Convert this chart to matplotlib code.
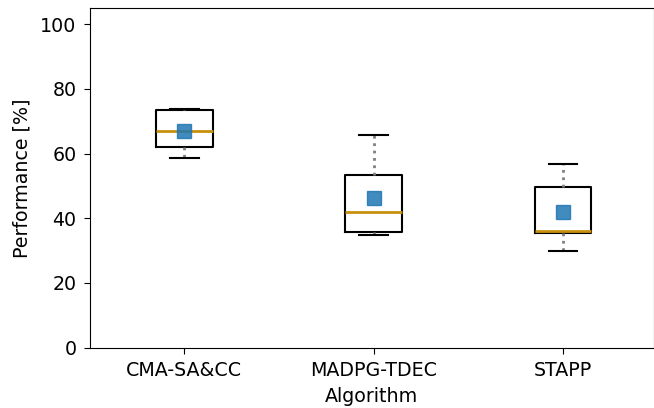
import matplotlib
matplotlib.use('Agg')
import matplotlib.pyplot as plt

# values
algorithms = ['CMA-SA&CC', 'MADPG-TDEC', 'STAPP']
whisker_low = [58.5, 34.7, 30.0]
q1 = [62.2, 35.9, 35.3]
median = [66.9, 42.1, 36.2]
q3 = [73.4, 53.3, 49.8]
whisker_high = [73.7, 65.9, 56.8]
mean = [67.0, 46.4, 41.8]

stats = []
for i, name in enumerate(algorithms):
    stats.append({'label': name, 'whislo': whisker_low[i], 'q1': q1[i],
                  'med': median[i], 'q3': q3[i], 'whishi': whisker_high[i],
                  'mean': mean[i], 'fliers': []})

fig, ax = plt.subplots(figsize=(6.54, 4.08), dpi=100)

ax.bxp(stats, positions=[1, 2, 3], widths=0.3, showmeans=True,
       boxprops=dict(color='black', lw=1.5),
       whiskerprops=dict(color='gray', lw=2, ls=':'),
       capprops=dict(color='black', lw=1.5),
       medianprops=dict(color='#c8900e', lw=2),
       meanprops=dict(marker='s', markerfacecolor='#1f77b4', markeredgecolor='#1f77b4',
                      markersize=10, alpha=0.85))

ax.set_xlim(0.5, 3.48)
ax.set_ylim(0, 105)
ax.set_yticks([0, 20, 40, 60, 80, 100])
ax.tick_params(labelsize=13.7, length=4.5, pad=5)
ax.set_xlabel('Algorithm', fontsize=13.7, labelpad=5)
ax.set_ylabel('Performance [%]', fontsize=13.7, labelpad=6)

plt.subplots_adjust(left=0.137, right=1.0, top=0.98, bottom=0.148)
plt.savefig('out.png', dpi=100)
